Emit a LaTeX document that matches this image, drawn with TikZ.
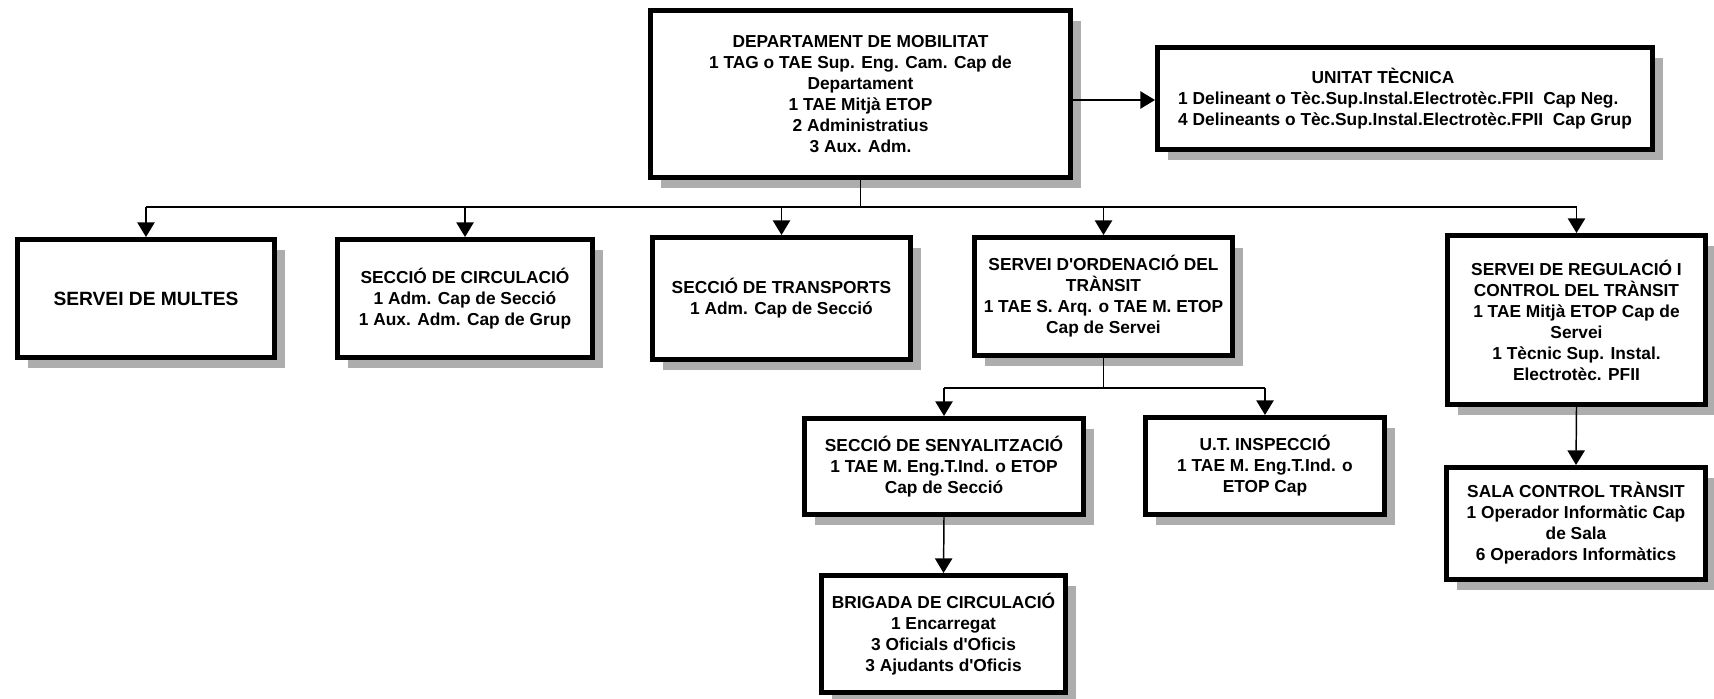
\documentclass[tikz,border=0pt]{standalone}
\usepackage{fontspec}
\setmainfont{Liberation Sans}
\usetikzlibrary{arrows.meta,shadows}

\tikzset{every picture/.style={line width=0.75pt}}
\tikzset{
  orgbox/.style={draw, line width=3.75pt, fill=white, align=center, inner sep=0pt,
    font=\fontsize{13}{15.75}\selectfont\bfseries,
    general shadow={fill=black!32, shadow xshift=8pt, shadow yshift=-8pt}},
  link/.style={line width=1.1pt},
  arr/.style={link, -{Triangle[length=11pt,width=13pt]}}
}
\newcommand{\apos}{\textquotesingle}

\begin{document}
\begin{tikzpicture}[x=0.75pt,y=0.75pt,yscale=-1,xscale=1]
\useasboundingbox (0,0) rectangle (1714,699);

%Boxes
\node [orgbox, minimum width=315pt, minimum height=125.25pt] (dept) at (860.5,94)
  {DEPARTAMENT DE MOBILITAT\\1 TAG o TAE Sup. Eng. Cam. Cap de\\Departament\\1 TAE Mitjà ETOP\\2 Administratius\\3 Aux. Adm.};
\node [orgbox, align=left, minimum width=371.25pt, minimum height=76.5pt] (unitat) at (1405,98.5)
  {\hspace*{100pt}UNITAT TÈCNICA\\1 Delineant o Tèc.Sup.Instal.Electrotèc.FPII\ \ Cap Neg.\\4 Delineants o Tèc.Sup.Instal.Electrotèc.FPII\ \ Cap Grup};

\node [orgbox, font=\fontsize{14.4}{17}\selectfont\bfseries, minimum width=192.75pt, minimum height=88.5pt] (multes) at (146,298.5)
  {SERVEI DE MULTES};
\node [orgbox, minimum width=191.25pt, minimum height=88.5pt] (circ) at (465,298.5)
  {SECCIÓ DE CIRCULACIÓ\\1 Adm. Cap de Secció\\1 Aux. Adm. Cap de Grup};
\node [orgbox, minimum width=193.5pt, minimum height=91.5pt] (transp) at (781.5,298.5)
  {SECCIÓ DE TRANSPORTS\\1 Adm. Cap de Secció};
\node [orgbox, minimum width=193.5pt, minimum height=88.5pt] (orden) at (1103.5,296.5)
  {SERVEI D\apos ORDENACIÓ DEL\\TRÀNSIT\\1 TAE S. Arq. o TAE M. ETOP\\Cap de Servei};
\node [orgbox, minimum width=193.5pt, minimum height=126.75pt] (regul) at (1576.5,320)
  {SERVEI DE REGULACIÓ I\\CONTROL DEL TRÀNSIT\\1 TAE Mitjà ETOP Cap de\\Servei\\1 Tècnic Sup. Instal.\\Electrotèc. PFII};

\node [orgbox, minimum width=209.25pt, minimum height=72pt] (senyal) at (944,466.5)
  {SECCIÓ DE SENYALITZACIÓ\\1 TAE M. Eng.T.Ind. o ETOP\\Cap de Secció};
\node [orgbox, minimum width=179.25pt, minimum height=72.75pt] (insp) at (1265,466)
  {U.T. INSPECCIÓ\\1 TAE M. Eng.T.Ind. o\\ETOP Cap};
\node [orgbox, minimum width=183pt, minimum height=87.75pt] (brigada) at (943.5,634)
  {BRIGADA DE CIRCULACIÓ\\1 Encarregat\\3 Oficials d\apos Oficis\\3 Ajudants d\apos Oficis};
\node [orgbox, minimum width=194.25pt, minimum height=84pt] (sala) at (1576,523.5)
  {SALA CONTROL TRÀNSIT\\1 Operador Informàtic Cap\\de Sala\\6 Operadors Informàtics};

%Connectors
\coordinate (bus) at (860.5,207);
\coordinate (subbus) at (1103.5,388);

\draw [arr] (dept.east |- 0,100) -- (unitat.west |- 0,100);
\draw [link] (dept.south) -- (bus);
\draw [link] (multes.north |- bus) -- (regul.north |- bus);
\foreach \n in {multes,circ,transp,orden,regul}
  \draw [arr] (\n.north |- bus) -- (\n.north);

\draw [link] (orden.south) -- (subbus);
\draw [link] (senyal.north |- subbus) -- (insp.north |- subbus);
\foreach \n in {senyal,insp}
  \draw [arr] (\n.north |- subbus) -- (\n.north);

\draw [arr] (senyal.south) -- (brigada.north);
\draw [arr] (regul.south) -- (sala.north);

\end{tikzpicture}
\end{document}
